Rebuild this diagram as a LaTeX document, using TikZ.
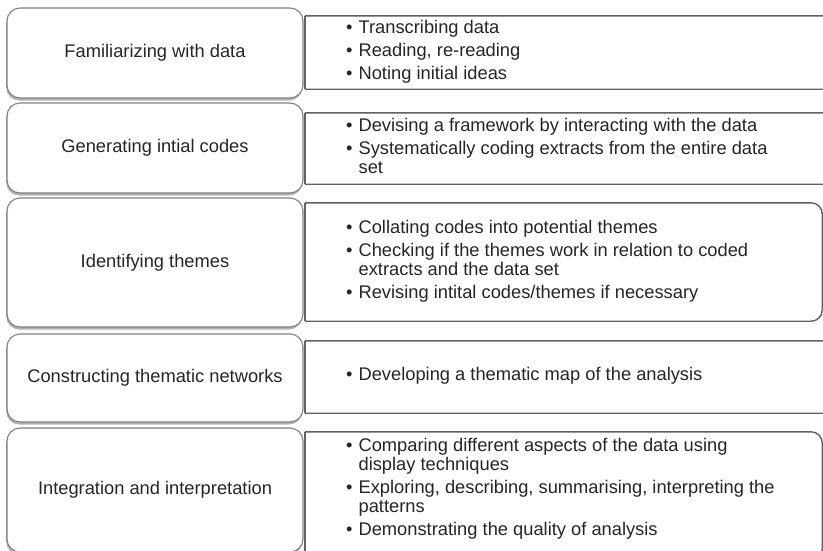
\documentclass[tikz,border=0pt]{standalone}
\usepackage{fontspec}
\setmainfont{Liberation Sans}
\usetikzlibrary{shadows}
\newcommand\bl{\textbullet}
\begin{document}
\begin{tikzpicture}[x=1pt,y=1pt,
  lbox/.style={draw=black!50, line width=1.1pt, fill=white, rounded corners=13pt,
    minimum width=296pt, inner sep=0pt, font=\fontsize{18.3}{20}\selectfont, text=black!85,
    drop shadow={shadow xshift=-0.8pt, shadow yshift=-2.5pt, fill=black, opacity=0.3}},
  rshape/.style={draw=none, inner sep=0pt},
  rbox/.style={draw=black!62, line width=1.4pt, line join=round},
  rtext/.style={anchor=west, inner sep=0pt, font=\fontsize{18.3}{19}\selectfont, text=black!85}]
\useasboundingbox (0,0) rectangle (823,-550);
\clip (0,0) rectangle (823,-550);
\fill[white] (0,0) rectangle (823,-550);

% right boxes (shapes)
\node[rshape, minimum width=535pt, minimum height=73pt] (R1) at (572.5,-52.5) {};
\node[rshape, minimum width=535pt, minimum height=71pt] (R2) at (572.5,-148.5) {};
\node[rshape, minimum width=517pt, minimum height=118pt] (R3) at (563.5,-262) {};
\node[rshape, minimum width=535pt, minimum height=72pt] (R4) at (572.5,-377) {};
\node[rshape, minimum width=517pt, minimum height=128pt] (R5) at (563.5,-496) {};
\foreach \r in {R1,R2,R3,R4,R5}{
  \draw[rbox, rounded corners=11pt] (\r.south west) -- (\r.south east) -- (\r.north east) -- (\r.north west);
  \draw[rbox] (\r.north west) -- (\r.south west);
}

% left boxes
\node[lbox, minimum height=90pt] (L1) at (155,-53) {Familiarizing with data};
\node[lbox, minimum height=90pt] (L2) at (155,-148) {Generating intial codes};
\node[lbox, minimum height=129pt] (L3) at (155,-262.5) {Identifying themes};
\node[lbox, minimum height=88pt] (L4) at (155,-378) {Constructing thematic networks};
\node[lbox, minimum height=124pt] (L5) at (155,-490) {Integration and interpretation};

% texts
\node[rtext] (T1) at (346,-52.5) {\begin{tabular}{@{}l@{\hspace{6pt}}l@{}}
\bl & Transcribing data\\[4pt]
\bl & Reading, re-reading\\[4pt]
\bl & Noting initial ideas
\end{tabular}};
\node[rtext] (T2) at (346,-148.5) {\begin{tabular}{@{}l@{\hspace{6pt}}l@{}}
\bl & Devising a framework by interacting with the data\\[4pt]
\bl & Systematically coding extracts from the entire data\\
 & set
\end{tabular}};
\node[rtext] (T3) at (346,-262) {\begin{tabular}{@{}l@{\hspace{6pt}}l@{}}
\bl & Collating codes into potential themes\\[4pt]
\bl & Checking if the themes work in relation to coded\\
 & extracts and the data set\\[4pt]
\bl & Revising intital codes/themes if necessary
\end{tabular}};
\node[rtext] (T4) at (346,-377) {\begin{tabular}{@{}l@{\hspace{6pt}}l@{}}
\bl & Developing a thematic map of the analysis
\end{tabular}};
\node[rtext] (T5) at (346,-490) {\begin{tabular}{@{}l@{\hspace{6pt}}l@{}}
\bl & Comparing different aspects of the data using\\
 & display techniques\\[4pt]
\bl & Exploring, describing, summarising, interpreting the\\
 & patterns\\[4pt]
\bl & Demonstrating the quality of analysis
\end{tabular}};
\end{tikzpicture}
\end{document}
